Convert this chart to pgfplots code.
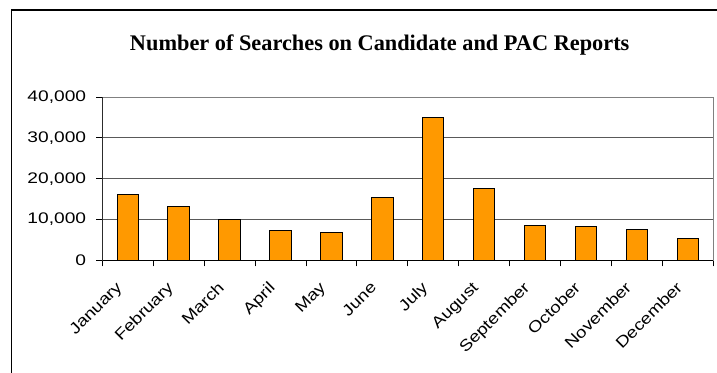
\documentclass[border=0pt]{standalone}
\usepackage{pgfplots}
\pgfplotsset{compat=1.18}
\usepackage{fontspec}
\setmainfont{Liberation Sans}
\newfontfamily\lab[FakeStretch=1.19]{Liberation Sans}
\newfontfamily\ylab[FakeStretch=1.25]{Liberation Sans}
\newfontfamily\titlefont{Liberation Serif}
\definecolor{barorange}{HTML}{FF9900}
\begin{document}
\begin{tikzpicture}
\useasboundingbox (0,0) rectangle (717bp,373bp);
\draw[line width=1.3bp] (11.7bp,-10bp) |- (740bp,363bp);
\node[anchor=base] at (379.7bp,322bp) {\titlefont\bfseries\fontsize{22.4}{24}\selectfont Number of Searches on Candidate and PAC Reports};
\begin{axis}[
  at={(102.3bp,112.7bp)}, anchor=south west,
  scale only axis, width=611bp, height=163.3bp,
  xmin=-0.5, xmax=11.5, ymin=0, ymax=40000,
  ytick={0,10000,20000,30000,40000},
  scaled y ticks=false,
  /pgf/number format/.cd, 1000 sep={,}, assume math mode=true, /pgfplots/.cd,
  xtick={-0.5,0.5,...,11.5},
  x tick label as interval,
  xticklabels={January,February,March,April,May,June,July,August,September,October,November,December},
  xticklabel style={font=\lab\fontsize{15.8}{16}\selectfont, rotate=45, anchor=north east, inner sep=1bp, xshift=-18bp},
  yticklabel style={font=\ylab\fontsize{15.4}{16}\selectfont, inner sep=2bp, xshift=-8bp},
  tick align=outside, major tick length=6bp,
  tick pos=left,
  tick style={black, line width=0.8bp},
  ymajorgrids, grid style={black!65, line width=0.8bp},
  axis line style={black!50, line width=1bp},
  ybar, bar width=21.4bp, bar shift=0pt,
]
\addplot[fill=barorange, draw=black, line width=1bp] coordinates {
(0,16000) (1,13200) (2,9950) (3,7400) (4,6800) (5,15300)
(6,34900) (7,17500) (8,8600) (9,8200) (10,7500) (11,5300)};
\draw[black, line width=1bp] (rel axis cs:0,1) -- (rel axis cs:0,0) -- (rel axis cs:1,0);
\end{axis}
\end{tikzpicture}
\end{document}
